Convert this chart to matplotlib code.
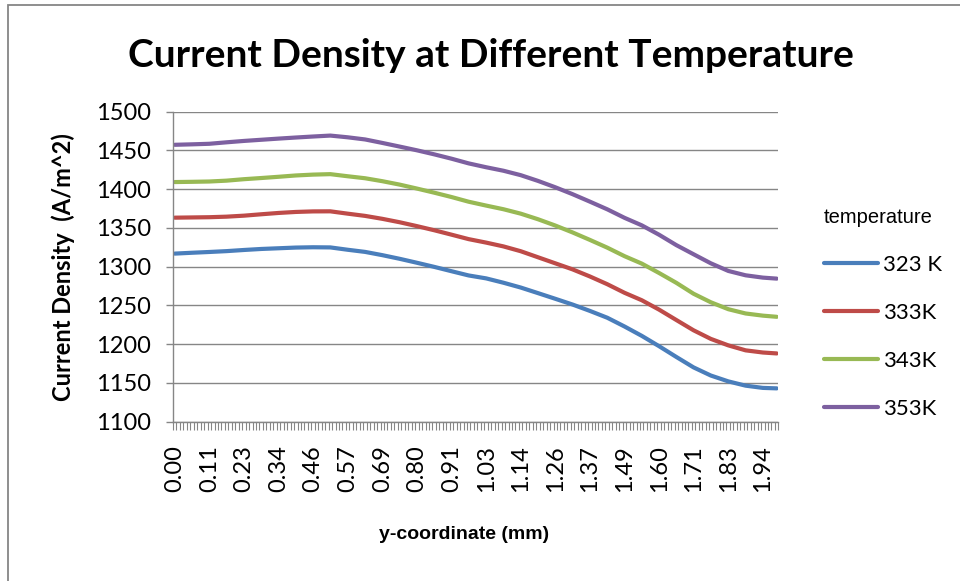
import numpy as np
import matplotlib
matplotlib.use("Agg")
import matplotlib.pyplot as plt
from matplotlib.patches import Rectangle

# y-coordinate (mm) of the sampled points
y_mm = [0.000, 0.057, 0.114, 0.171, 0.229, 0.286, 0.343, 0.400, 0.457, 0.514,
        0.571, 0.629, 0.686, 0.743, 0.800, 0.857, 0.914, 0.971, 1.029, 1.086,
        1.143, 1.200, 1.257, 1.314, 1.371, 1.429, 1.486, 1.543, 1.600, 1.657,
        1.714, 1.771, 1.829, 1.886, 1.943, 1.989]

# current density (A/m^2) per temperature
j_323 = [1316.8, 1317.9, 1318.9, 1320.0, 1321.5, 1322.8, 1323.7, 1324.6, 1325.0, 1324.8,
         1321.8, 1319.0, 1314.8, 1310.1, 1305.0, 1299.7, 1294.1, 1288.6, 1284.8, 1279.2,
         1273.0, 1265.8, 1258.5, 1251.1, 1242.9, 1234.0, 1222.7, 1210.6, 1197.3, 1183.4,
         1169.9, 1159.4, 1151.8, 1146.3, 1143.4, 1142.8]
j_333 = [1363.2, 1363.5, 1363.8, 1364.5, 1365.8, 1367.6, 1369.3, 1370.6, 1371.3, 1371.4,
         1368.4, 1365.5, 1361.7, 1357.3, 1352.3, 1347.0, 1341.3, 1335.5, 1331.0, 1326.1,
         1319.9, 1312.1, 1304.3, 1296.5, 1287.4, 1277.3, 1266.2, 1256.6, 1244.5, 1231.1,
         1217.8, 1206.7, 1198.3, 1191.9, 1189.1, 1187.9]
j_343 = [1409.2, 1409.5, 1409.9, 1411.0, 1412.9, 1414.4, 1416.0, 1417.7, 1418.8, 1419.4,
         1416.7, 1414.1, 1410.3, 1405.9, 1400.8, 1395.5, 1389.9, 1383.8, 1378.8, 1374.1,
         1368.4, 1361.2, 1353.1, 1344.2, 1334.6, 1324.5, 1313.5, 1303.9, 1291.8, 1279.1,
         1265.0, 1254.0, 1245.0, 1239.5, 1236.7, 1235.2]
j_353 = [1457.3, 1457.9, 1458.6, 1460.5, 1462.3, 1463.8, 1465.3, 1466.7, 1468.0, 1469.2,
         1467.0, 1464.2, 1459.7, 1455.0, 1450.2, 1445.0, 1439.4, 1433.3, 1428.3, 1423.8,
         1418.1, 1410.7, 1402.5, 1393.6, 1384.0, 1374.0, 1363.0, 1353.3, 1341.2, 1327.8,
         1316.0, 1304.3, 1294.4, 1288.8, 1285.8, 1284.5]

series_names = ["323 K", "333K", "343K", "353K"]
series_colors = ["#4A7EBB", "#BE4B48", "#98B954", "#7D60A0"]

x_tick_labels = ["0.00", "0.11", "0.23", "0.34", "0.46", "0.57", "0.69", "0.80", "0.91",
                 "1.03", "1.14", "1.26", "1.37", "1.49", "1.60", "1.71", "1.83", "1.94"]

n_cat = 175
step = 2.0 / n_cat
grey = "#868686"

fig = plt.figure(figsize=(9.6, 5.81), dpi=100)
ax = fig.add_axes([0.1802, 0.2745, 0.6306, 0.5332])

for ys, name, col in zip([j_323, j_333, j_343, j_353], series_names, series_colors):
    ax.plot(y_mm, ys, color=col, lw=3.0, label=name, solid_capstyle="round")

ax.set_ylim(1100, 1500)
ax.set_yticks(np.arange(1100, 1501, 50))
ax.set_xlim(-step / 2, 2.0 - step / 2)
ax.set_xticks(np.arange(0, 171, 10) * step)
ax.set_xticklabels(x_tick_labels, rotation=90, fontfamily="Lato", fontsize=17)
ax.set_xticks(np.arange(n_cat + 1) * step - step / 2, minor=True)

ax.grid(axis="y", color=grey, lw=1.0)
ax.set_axisbelow(True)
for s in ["top", "right"]:
    ax.spines[s].set_visible(False)
for s in ["left", "bottom"]:
    ax.spines[s].set_color(grey)
    ax.spines[s].set_linewidth(1.0)

ax.tick_params(axis="y", colors=grey, length=5, width=1.0, labelcolor="black",
               labelsize=17, pad=11)
ax.tick_params(axis="x", which="major", length=0, pad=17, labelcolor="black")
ax.tick_params(axis="x", which="minor", length=5.5, width=0.8, colors=grey)
for lbl in ax.get_yticklabels():
    lbl.set_fontfamily("Lato")

fig.text(0.511, 0.905, "Current Density at Different Temperature", ha="center",
         va="center", fontfamily="Lato", fontweight="bold", fontsize=28)
ax.set_ylabel("Current Density  (A/m^2)", fontfamily="Lato", fontweight="bold",
              fontsize=17, labelpad=15)
fig.text(0.4835, 0.08, "y-coordinate (mm)", ha="center", va="center",
         fontfamily="Liberation Sans", fontweight="bold", fontsize=14)

leg = ax.legend(loc="upper left", bbox_to_anchor=(0.849, 0.658),
                bbox_transform=fig.transFigure, frameon=False,
                title="temperature", alignment="left",
                prop={"family": "Lato", "size": 16}, labelspacing=1.26,
                handlelength=2.45, handletextpad=0.2, borderaxespad=0)
leg.get_title().set_fontfamily("Liberation Sans")
leg.get_title().set_fontsize(14.5)
for line in leg.get_lines():
    line.set_linewidth(3.0)

# chart-area frame
fig.add_artist(Rectangle((8 / 960, -0.05), 1.1, 1.05 - 5 / 581,
                         transform=fig.transFigure, fill=False,
                         edgecolor=grey, lw=1.3, clip_on=False))

fig.savefig("out.png", dpi=100)
